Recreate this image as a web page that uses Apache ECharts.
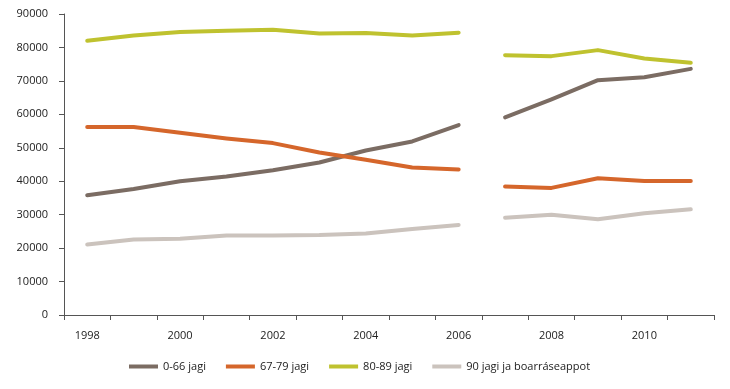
<!DOCTYPE html>
<html><head><meta charset="utf-8">
<script src="https://cdn.jsdelivr.net/npm/echarts@6/dist/echarts.min.js"></script>
<style>html,body{margin:0;padding:0;background:#fff}#c{width:730px;height:389px}</style>
</head><body><div id="c"></div>
<script>
const years = ['1998','1999','2000','2001','2002','2003','2004','2005','2006','2007','2008','2009','2010','2011'];
const s0_66 = [35800,37700,40000,41400,43300,45600,49200,51900,56800,59100,64500,70200,71100,73600];
const s67_79 = [56200,56200,54500,52800,51400,48600,46400,44100,43500,38400,38000,40900,40100,40100];
const s80_89 = [82000,83600,84600,85000,85300,84200,84300,83600,84400,77700,77400,79200,76700,75400];
const s90 = [21100,22600,22800,23800,23800,23900,24400,25700,26900,29100,30000,28600,30400,31600];
const names = ['0-66 jagi','67-79 jagi','80-89 jagi','90 jagi ja boarráseappot'];
const colors = ['#7b6c63','#d5662b','#bfc22f','#cbc3bd'];
const yTicks = [0,10000,20000,30000,40000,50000,60000,70000,80000,90000];

const datasets = [s0_66, s67_79, s80_89, s90];
const series = [];
datasets.forEach((d,i)=>{
  const first = d.map((v,k)=> k<=8 ? v : null);
  const second = d.map((v,k)=> k>=9 ? v : null);
  [first, second].forEach((arr)=>{
    series.push({
      name: names[i], type:'line', data: arr, symbol:'none', connectNulls:false,
      lineStyle:{color:colors[i], width:4, cap:'round', join:'round'},
      itemStyle:{color:colors[i]}, emphasis:{disabled:true}, silent:true, z: 2+i
    });
  });
});

const chart = echarts.init(document.getElementById('c'), null, {renderer:'canvas'});
chart.setOption({
  animation:false,
  textStyle:{fontFamily:'Open Sans', color:'#222'},
  grid:{left:64, right:16, top:14, bottom:74, containLabel:false},
  xAxis:{
    type:'category', data: years, boundaryGap:true,
    axisLine:{lineStyle:{color:'#555', width:1}},
    axisTick:{show:true, interval:0, length:5, lineStyle:{color:'#555'}},
    axisLabel:{interval:1, color:'#222', fontSize:11, margin:15, fontFamily:'Open Sans'}
  },
  yAxis:{
    type:'value', min:yTicks[0], max:yTicks[yTicks.length-1], interval:10000,
    axisLine:{show:true, lineStyle:{color:'#555', width:1}},
    axisTick:{show:true, length:5, lineStyle:{color:'#555'}},
    splitLine:{show:false},
    axisLabel:{color:'#222', fontSize:11, margin:16, fontFamily:'Open Sans', formatter:(v)=>String(v)}
  },
  legend:{
    data: names.map((n,i)=>({name:n, icon:'rect', itemStyle:{color:colors[i]}})),
    bottom:12, left:124, itemWidth:29, itemHeight:4, itemGap:20,
    textStyle:{fontSize:11, color:'#222', fontFamily:'Open Sans'},
    selectedMode:false
  },
  series: series
});
</script></body></html>
